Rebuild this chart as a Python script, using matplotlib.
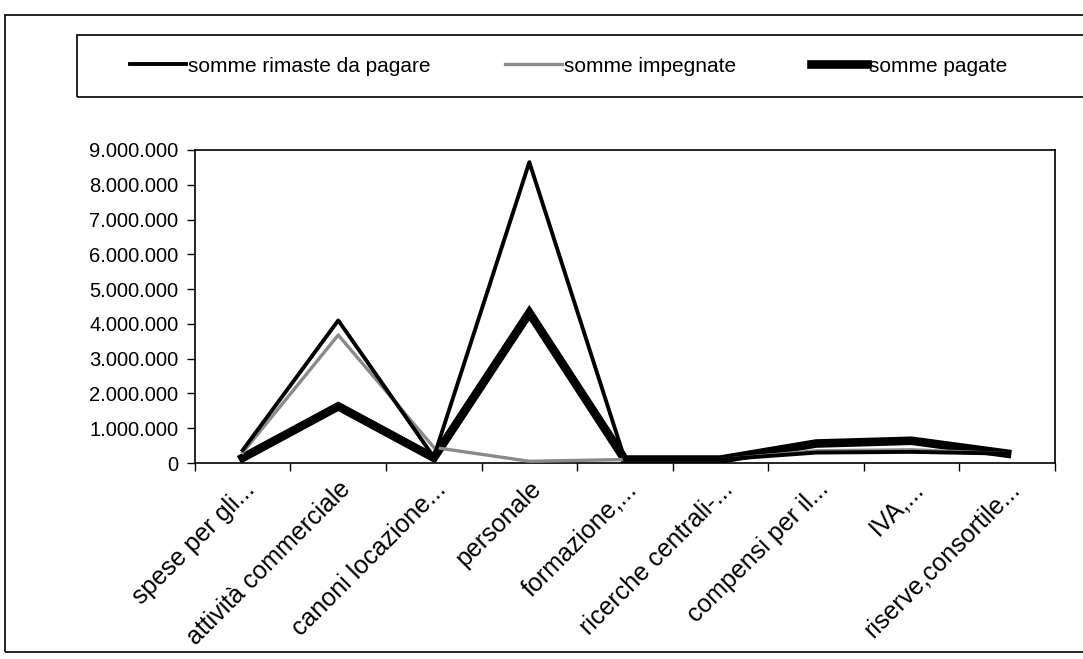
import matplotlib.pyplot as plt
from matplotlib.patches import Rectangle
from matplotlib.ticker import FuncFormatter

plt.rcParams['font.family'] = ['Liberation Sans', 'DejaVu Sans']

# categories and values
categories = ['spese per gli...', 'attività commerciale', 'canoni locazione...', 'personale',
              'formazione,...', 'ricerche centrali-...', 'compensi per il...', 'IVA,...',
              'riserve,consortile...']
rimaste = [370000, 4100000, 170000, 8650000, 100000, 100000, 300000, 320000, 270000]
impegnate = [300000, 3680000, 450000, 50000, 100000, 100000, 350000, 380000, 270000]
pagate = [150000, 1630000, 150000, 4320000, 100000, 100000, 560000, 640000, 270000]

fig = plt.figure(figsize=(10.83, 6.59), dpi=100)
ax = fig.add_axes([0.180, 0.2974, 0.794, 0.475])

x = list(range(len(categories)))
ax.plot(x, pagate, color='black', lw=6.2, solid_joinstyle='miter', label='somme pagate', zorder=2)
ax.plot(x, impegnate, color='#8a8a8a', lw=2.4, label='somme impegnate', zorder=3)
ax.plot(x, rimaste, color='black', lw=2.8, label='somme rimaste da pagare', zorder=4)

ax.set_xlim(-0.5, len(categories) - 0.5)
ax.set_ylim(0, 9000000)
ax.set_yticks(range(0, 9000001, 1000000))
ax.yaxis.set_major_formatter(FuncFormatter(lambda v, p: f'{int(v):,}'.replace(',', '.')))
ax.tick_params(axis='y', labelsize=14.5, length=6, width=1, direction='out', pad=6)

ax.set_xticks(x)
ax.set_xticklabels(categories, rotation=45, ha='right', rotation_mode='anchor', fontsize=18)
ax.set_xticks([i - 0.5 for i in range(len(categories) + 1)], minor=True)
ax.tick_params(axis='x', which='major', length=0, pad=10)
ax.tick_params(axis='x', which='minor', length=6, width=1, direction='out')
for s in ax.spines.values():
    s.set_linewidth(1.2)

# outer frame and legend box
fig.patches.append(Rectangle((5 / 1083, 1 - 652 / 659), 1.1, (652 - 15) / 659,
                             transform=fig.transFigure, fill=False, ec='black', lw=1.2))
fig.patches.append(Rectangle((77 / 1083, 1 - 97 / 659), 1.1, 62 / 659,
                             transform=fig.transFigure, fill=False, ec='black', lw=1.2))

h, l = ax.get_legend_handles_labels()
order = [2, 1, 0]
fig.legend([h[i] for i in order], [l[i] for i in order], loc='center',
           bbox_to_anchor=(0.525, 1 - 66 / 659), ncol=3, frameon=False, fontsize=15,
           handlelength=2.7, handletextpad=0.1, columnspacing=3.6)

fig.savefig('out.png', dpi=100)
